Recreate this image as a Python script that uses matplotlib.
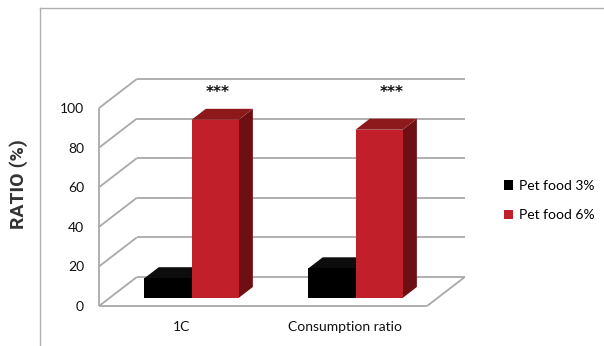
import matplotlib
matplotlib.use("Agg")
import matplotlib.pyplot as plt
from matplotlib.patches import Polygon, Patch
from matplotlib.lines import Line2D
from matplotlib.transforms import IdentityTransform

# data
categories = ["1C", "Consumption ratio"]
series = ["Pet food 3%", "Pet food 6%"]
pet_food_3 = [10, 15]
pet_food_6 = [90, 85]
yticks = [0, 20, 40, 60, 80, 100]
signif = ["***", "***"]

values = [pet_food_3, pet_food_6]
front_colors = ["#000000", "#c1202a"]
top_colors = ["#0d0d0d", "#8e191d"]
side_colors = ["#050505", "#6e1013"]
grid_c = "#a9a9a9"
txt_font = ["Lato", "DejaVu Sans"]

W, H = 604, 346
fig = plt.figure(figsize=(W / 100, H / 100), dpi=100)
# axes sits in the plane of the bar fronts; walls/floor are offset from it
ax = fig.add_axes([109.5 / W, 48 / H, 328 / W, 198 / H])
ax.set_xlim(-0.5, 1.5)
ax.set_ylim(0, 100)
ax.axis("off")

SLANT = 1.3
FRONT, BACK, BAR_D = -8, 21, 11
ident = IdentityTransform()


def pt(x, v, d=0):
    px, py = ax.transData.transform((x, v))
    return (px + SLANT * d, py + d)


def poly(pts, fc, z):
    fig.add_artist(Polygon(pts, closed=True, facecolor=fc, edgecolor="none",
                           lw=0, transform=ident, zorder=z))


def seg(p, q, z=1, color=grid_c, lw=1.3):
    fig.add_artist(Line2D([p[0], q[0]], [p[1], q[1]], color=color, lw=lw,
                          transform=ident, zorder=z, solid_capstyle="butt"))


# back wall grid and side wall diagonals
for v in yticks:
    seg(pt(-0.5, v, BACK), pt(1.5, v, BACK))
    seg(pt(-0.5, v, FRONT), pt(-0.5, v, BACK))
seg(pt(-0.5, 0, FRONT), pt(-0.5, 100, FRONT))
# floor
seg(pt(-0.5, 0, FRONT), pt(1.5, 0, FRONT))
seg(pt(1.5, 0, FRONT), pt(1.5, 0, BACK))

# bars
bw = 0.287
z = 3
for i in range(len(categories)):
    for s in range(len(series)):
        x0 = i - bw + s * bw
        x1 = x0 + bw
        v = values[s][i]
        poly([pt(x1, 0), pt(x1, 0, BAR_D), pt(x1, v, BAR_D), pt(x1, v)], side_colors[s], z)
        poly([pt(x0, v), pt(x1, v), pt(x1, v, BAR_D), pt(x0, v, BAR_D)], top_colors[s], z)
        poly([pt(x0, 0), pt(x1, 0), pt(x1, v), pt(x0, v)], front_colors[s], z)
        z += 1

# significance marks over the 6% bars
star_dx = [0.162, 0.223]
for i, s in enumerate(signif):
    ax.text(i + star_dx[i], 104, s, ha="center", va="center", fontsize=11,
            fontweight="bold", color="#111111", family="DejaVu Sans")

# tick labels on the front edge of the side wall
for v in yticks:
    x, y = pt(-0.5, v, FRONT)
    fig.text(x - 15, y - 1, str(v), transform=ident, ha="right", va="center",
             fontsize=10, color="#111111", family=txt_font)

for i, c in enumerate(categories):
    x, y = pt(i, 0, FRONT)
    fig.text(x, y - 21, c, transform=ident, ha="center", va="center",
             fontsize=10, color="#111111", family=txt_font)

fig.text(19 / W, 1 - 184 / H, "RATIO (%)", rotation=90, ha="center", va="center",
         fontsize=14, fontweight="bold", color="#333333",
         family=["Roboto", "DejaVu Sans"])

handles = [Patch(facecolor=c, edgecolor="none") for c in front_colors]
fig.legend(handles, series, loc="upper left", bbox_to_anchor=(504 / W, 1 - 180 / H),
           frameon=False, borderpad=0, borderaxespad=0, handlelength=0.65,
           handleheight=0.65, handletextpad=0.45, labelspacing=1.25,
           prop={"family": txt_font, "size": 10})

# chart area border
fig.add_artist(Line2D([40, 40], [0, H - 8], color="#b0b0b0", lw=1, transform=ident))
fig.add_artist(Line2D([40, W], [H - 8, H - 8], color="#b0b0b0", lw=1, transform=ident))

fig.savefig("out.png", dpi=100)
